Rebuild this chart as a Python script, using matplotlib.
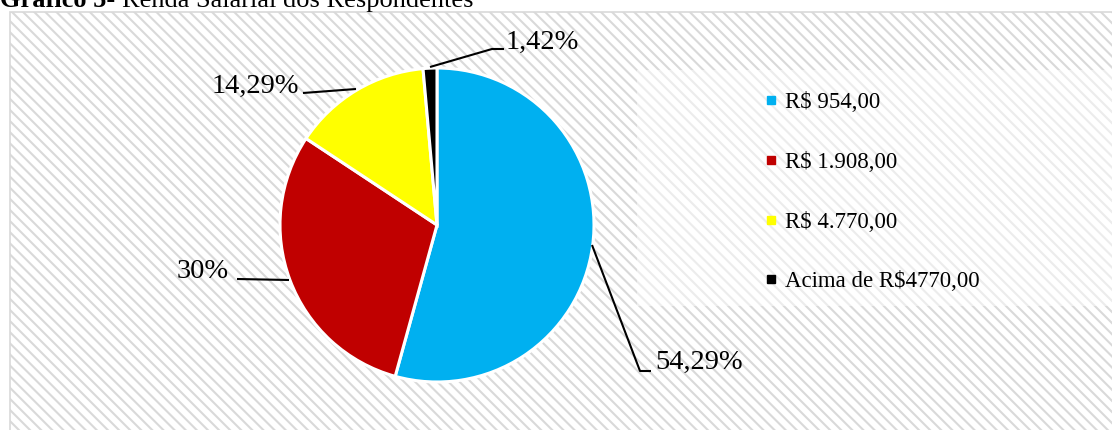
import matplotlib
matplotlib.use("Agg")
import matplotlib.pyplot as plt
from matplotlib.patches import Rectangle
from matplotlib.lines import Line2D

# data
categorias = ['R$ 954,00', 'R$ 1.908,00', 'R$ 4.770,00', 'Acima de R$4770,00']
valores = [54.29, 30, 14.29, 1.42]
rotulos = ['54,29%', '30%', '14,29%', '1,42%']
cores = ['#00b0f0', '#c00000', '#ffff00', '#000000']

W, H = 1112, 430
plt.rcParams['font.family'] = ['Liberation Serif', 'DejaVu Serif']
plt.rcParams['hatch.linewidth'] = 1.5
plt.rcParams['hatch.color'] = '#e0e0e0'

fig = plt.figure(figsize=(W / 100, H / 100), dpi=100)
ax = fig.add_axes([0, 0, 1, 1])

def py(y):
    # pixel row (top origin) -> axes y
    return H - y

# chart area background with diagonal stripes
ax.add_patch(Rectangle((10, -5), W + 10, py(12) + 5, facecolor='white',
                       edgecolor='#d9d9d9', hatch='\\\\\\', lw=1.2, zorder=0))
# lighter legend area
ax.add_patch(Rectangle((637, py(306)), W - 637 + 5, 306 - 70,
                       facecolor='white', alpha=0.5, lw=0, zorder=1))

cx, cy, R = 437, py(225), 157
wedges, _ = ax.pie(valores, colors=cores, startangle=90, counterclock=False,
                   center=(cx, cy), radius=R,
                   wedgeprops=dict(edgecolor='white', linewidth=2.2))
for w in wedges:
    w.set_zorder(3)

# leader lines and labels (pixel positions)
linhas = [
    [(592, 245), (640, 371), (651, 371)],
    [(237, 279), (289, 280)],
    [(303, 93), (356, 89)],
    [(430, 67), (492, 49), (504, 49)],
]
pos = [(655, 362, 'left'), (229, 271, 'right'), (299, 86, 'right'), (506, 42, 'left')]
for ln, (tx, ty, ha), txt in zip(linhas, pos, rotulos):
    ax.plot([p[0] for p in ln], [py(p[1]) for p in ln], color='black', lw=1.5,
            zorder=4, solid_capstyle='butt')
    ax.text(tx, py(ty), txt, ha=ha, va='center', fontsize=20.5, zorder=5)

ax.set_xlim(0, W)
ax.set_ylim(0, H)
ax.set_aspect('auto')
ax.axis('off')

handles = [Line2D([], [], marker='s', ls='', color=c, markersize=6) for c in cores]
leg = fig.legend(handles, categorias, loc='upper left',
                 bbox_to_anchor=(753 / W, py(81) / H), frameon=False,
                 fontsize=16.5, labelspacing=1.68, handlelength=0.6,
                 handletextpad=0.3, borderpad=0)

# title, cut at the top edge as in the original
fig.text(0, py(7) / H, 'Gráfico 5-', fontsize=19, fontweight='bold',
         ha='left', va='baseline')
fig.text(122 / W, py(7) / H, 'Renda Salarial dos Respondentes', fontsize=19,
         ha='left', va='baseline')

fig.savefig('out.png', dpi=100)
